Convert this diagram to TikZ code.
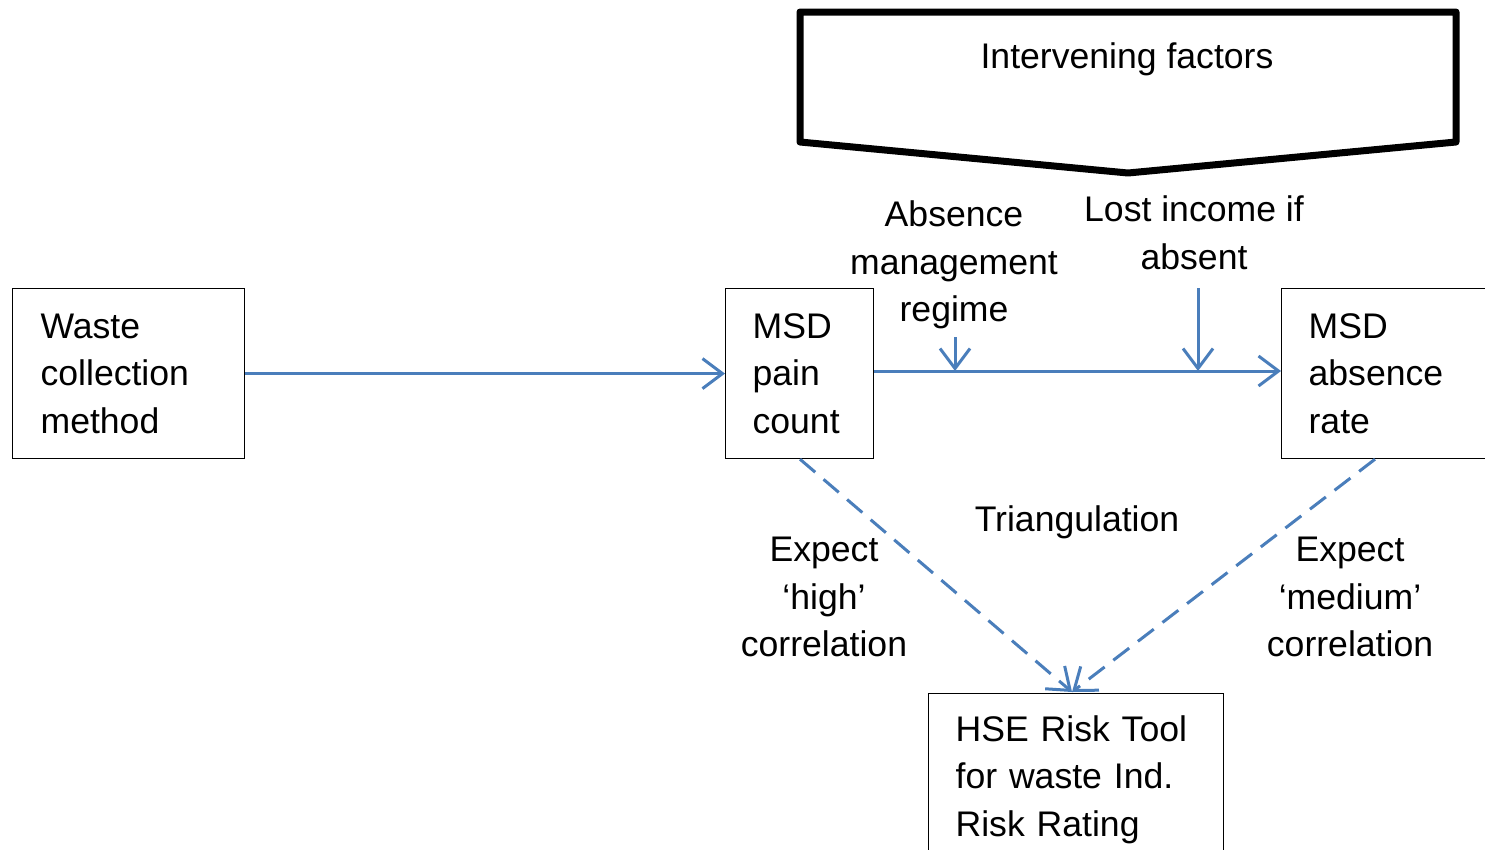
\documentclass[tikz,border=0pt]{standalone}
\usepackage{fontspec}
\setmainfont{Liberation Sans}
\usetikzlibrary{arrows.meta}
\definecolor{arrowblue}{HTML}{4A7EBB}
\begin{document}
\begin{tikzpicture}[x=1pt,y=-1pt,
  txt/.style={font=\fontsize{35.6}{47.5}\selectfont, inner sep=0pt},
  box/.style={txt, draw=black, line width=1.2pt, align=left, anchor=north west},
  lbl/.style={txt, align=center},
  flow/.style={draw=arrowblue, line width=3pt, -{Straight Barb[length=20pt,width=30pt,line width=3pt]}},
  dflow/.style={flow, dash pattern=on 20pt off 11pt}
]
\useasboundingbox (0,0) rectangle (1485,849);
\clip (0,0) rectangle (1485,849);
% boxes
\node[box, minimum width=232pt, minimum height=170pt, text width=176pt, inner xsep=28pt] (waste) at (12,288) {Waste\\collection\\method};
\node[box, minimum width=148pt, minimum height=170pt, text width=94pt, inner xsep=27pt] (pain) at (725,288) {MSD\\pain\\count};
\node[box, minimum width=230pt, minimum height=170pt, text width=176pt, inner xsep=27pt] (absence) at (1281,288) {MSD\\absence\\rate};
\node[box, minimum width=295pt, text width=241pt, inner xsep=27pt, inner ysep=22pt] (hse) at (928,693) {HSE Risk Tool\\for waste Ind.\\Risk Rating};
% intervening factors pentagon
\coordinate (p1) at (800,12);
\coordinate (p2) at (1456,12);
\coordinate (p3) at (1456,142);
\coordinate (p4) at (1128,173);
\coordinate (p5) at (800,142);
\draw[line width=7pt, line join=round] (p1) -- (p2) -- (p3) -- (p4) -- (p5) -- cycle;
\node[lbl] (inter) at (1127,59) {Intervening factors};
% labels
\node[lbl] (amr) at (954,265) {Absence\\management\\regime};
\node[lbl] (lost) at (1194,233) {Lost income if\\absent};
\node[lbl] (tri) at (1077,522) {Triangulation};
\node[lbl] (high) at (824,597) {Expect\\‘high’\\correlation};
\node[lbl] (medium) at (1350,597) {Expect\\‘medium’\\correlation};
% connectors
\coordinate (j1) at (955,371);
\coordinate (j2) at (1198,371);
\coordinate (amrtail) at (955,337);
\coordinate (losttail) at (1198,288);
\coordinate (hsetop) at (1072,692);
\draw[flow] (waste.east) -- (pain.west);
\draw[flow] (pain.east |- j1) -- (absence.west |- j1);
\draw[flow] (amrtail) -- (j1);
\draw[flow] (losttail) -- (j2);
\draw[dflow] (pain.south -| 800,0) -- (hsetop);
\draw[dflow] (absence.south -| 1375,0) -- (hsetop);
\end{tikzpicture}
\end{document}
